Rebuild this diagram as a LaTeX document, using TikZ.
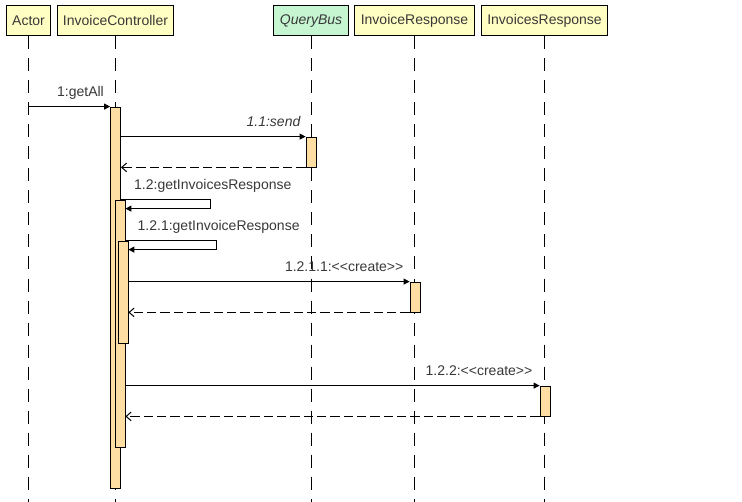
\documentclass[tikz,border=0pt]{standalone}
\usepackage{fontspec}
\setmainfont{Liberation Sans}
\definecolor{seqYellow}{HTML}{FFFFC3}
\definecolor{seqGreen}{HTML}{C6F5D2}
\definecolor{seqOrange}{HTML}{FFDEA4}
\definecolor{seqInk}{HTML}{383838}
\usetikzlibrary{arrows.meta, positioning, calc, fit}

\begin{document}
\begin{tikzpicture}[
    x=0.75pt, y=-0.75pt,
    head/.style={
      draw=black,
      fill=seqYellow,
      text=seqInk,
      minimum height=22.5pt,
      inner sep=0pt,
      line width=0.75pt,
      font=\fontsize{10.5}{12}\selectfont,
    },
    life/.style={black, line width=0.75pt, dash pattern=on 9.75pt off 6.75pt},
    act/.style={draw=black, fill=seqOrange, inner sep=0pt, line width=0.6pt},
    call/.style={-{Triangle[length=4.5pt, width=4.5pt]}, black, line width=0.75pt},
    ret/.style={-{Straight Barb[length=3.75pt, width=6.5pt]}, black, line width=0.75pt, dash pattern=on 7pt off 3pt},
    lbl/.style={text=seqInk, inner sep=0pt, font=\fontsize{10.5}{12}\selectfont},
  ]
    \useasboundingbox (0,0) rectangle (742,502);
    \coordinate (bot) at (0,502);

    % participants
    \node[head, minimum width=33.5pt] (actor) at (28.5,21) {Actor};
    \node[head, minimum width=87pt] (ctrl) at (115.5,21) {InvoiceController};
    \node[head, minimum width=56.25pt, fill=seqGreen] (bus) at (311,21) {\itshape QueryBus};
    \node[head, minimum width=89.5pt] (resp) at (414.5,21) {InvoiceResponse};
    \node[head, minimum width=94.5pt] (resps) at (544.5,21) {InvoicesResponse};

    % lifelines
    \foreach \p in {actor, ctrl, bus, resp, resps}
      \draw[life] (\p.south) -- (\p.south |- bot);

    % activations
    \node[act, fit={(110.5,107) (120.5,488)}] (a1) {};
    \node[act, fit={(306,137) (316,167)}] (bus1) {};
    \node[act, fit={(115,200) (125,447)}] (a2) {};
    \node[act, fit={(118,241) (128,343)}] (a3) {};
    \node[act, fit={(410,282) (420,312)}] (resp1) {};
    \node[act, fit={(540,386) (550,416)}] (resps1) {};

    % messages
    \draw[call] (actor.south |- a1.north) -- (a1.north west);
    \node[lbl, anchor=base east] (l1) at ($(a1.north west)+(-6,-10)$) {1:getAll};

    \draw[call] (a1.east |- bus1.north) -- (bus1.north west);
    \node[lbl, anchor=base east] (l11) at ($(bus1.north west)+(-5,-10)$) {\itshape 1.1:send};
    \draw[ret] (bus1.south west) -- (a1.east |- bus1.south west);

    \draw[call] (a1.east |- a2.north) -- ++(90,0) |- ($(a2.north east)+(0,9)$);
    \node[lbl, anchor=base west] (l12) at ($(a1.east |- a2.north)+(13,-10)$) {1.2:getInvoicesResponse};

    \draw[call] (a2.east |- a3.north) -- ++(91.5,0) |- ($(a3.north east)+(0,9)$);
    \node[lbl, anchor=base west] (l121) at ($(a2.east |- a3.north)+(12,-10)$) {1.2.1:getInvoiceResponse};

    \draw[call] (a3.east |- resp1.north) -- (resp1.north west);
    \node[lbl, anchor=base east] (l1211) at ($(resp1.north west)+(-6,-10)$) {1.2.1.1:<\kern0pt<create>\kern0pt>};
    \draw[ret] (resp1.south west) -- (a3.east |- resp1.south west);

    \draw[call] (a2.east |- resps1.north) -- (resps1.north west);
    \node[lbl, anchor=base east] (l122) at ($(resps1.north west)+(-7,-10)$) {1.2.2:<\kern0pt<create>\kern0pt>};
    \draw[ret] (resps1.south west) -- (a2.east |- resps1.south west);
  \end{tikzpicture}
\end{document}
